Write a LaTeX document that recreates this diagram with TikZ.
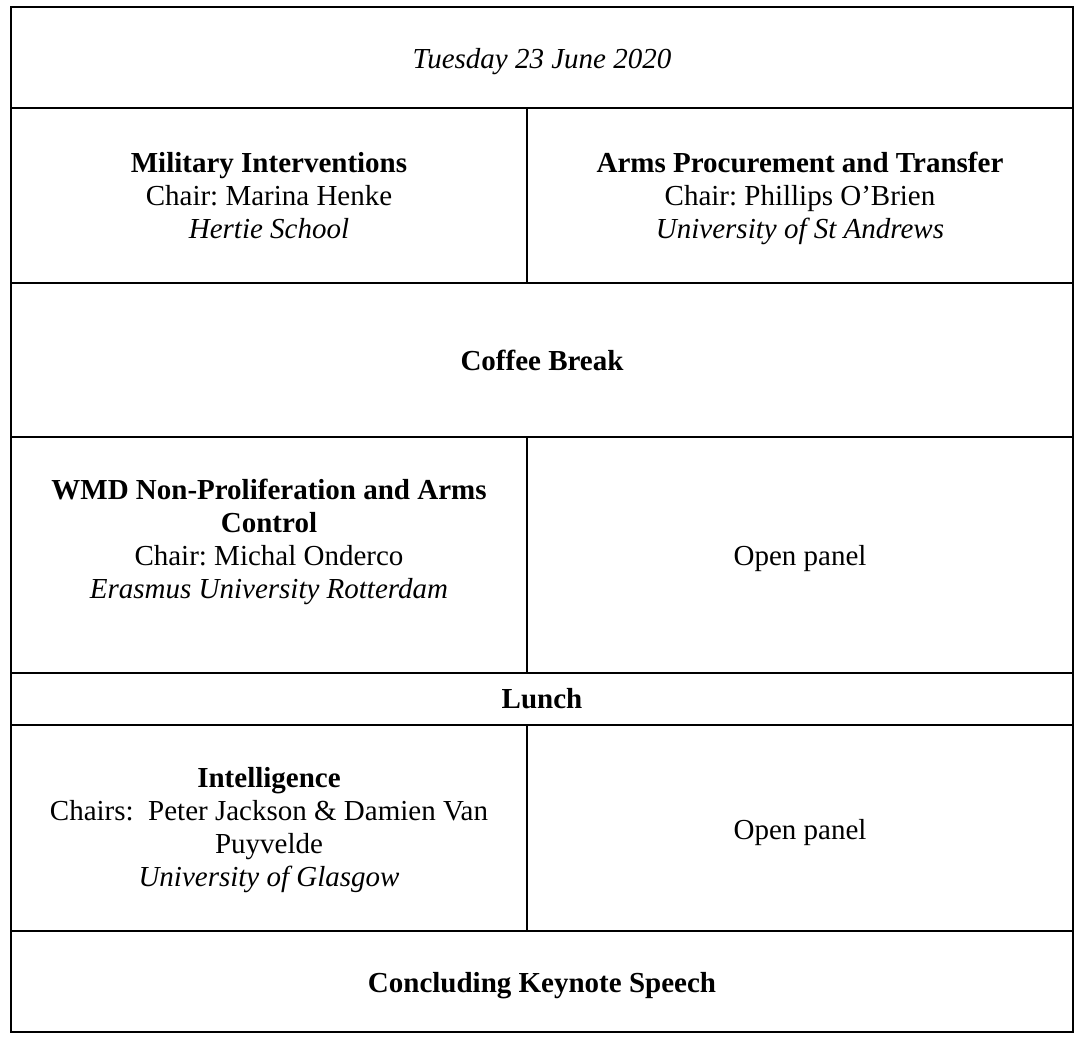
\documentclass[tikz,border=0pt]{standalone}
\usepackage{fontspec}
\setmainfont{Liberation Serif}
\begin{document}
\frenchspacing
\begin{tikzpicture}[x=1pt,y=-1pt,
  cell/.style={draw=black,line width=1.6pt,inner sep=0pt,align=center,
    font=\fontsize{29}{33}\selectfont\frenchspacing},
  txt/.style={inner sep=0pt,align=center,font=\fontsize{29}{33}\selectfont\frenchspacing},
]
\useasboundingbox (0,0) rectangle (1088,1048);
% cells
\node[cell,minimum width=1062pt,minimum height=101pt] (title) at (542,57.5) {};
\node[cell,minimum width=516pt,minimum height=175pt] (mil) at (269,195.5) {};
\node[cell,minimum width=546pt,minimum height=175pt] (arms) at (800,195.5) {};
\node[cell,minimum width=1062pt,minimum height=154pt] (coffee) at (542,360) {};
\node[cell,minimum width=516pt,minimum height=236pt] (wmd) at (269,555) {};
\node[cell,minimum width=546pt,minimum height=236pt] (open1) at (800,555) {};
\node[cell,minimum width=1062pt,minimum height=52pt] (lunch) at (542,699) {};
\node[cell,minimum width=516pt,minimum height=206pt] (intel) at (269,828) {};
\node[cell,minimum width=546pt,minimum height=206pt] (open2) at (800,828) {};
\node[cell,minimum width=1062pt,minimum height=101pt] (key) at (542,981.5) {};
% texts
\node[txt] (titleT) at ([yshift=-4pt]title.center) {\itshape Tuesday 23 June 2020};
\node[txt] (milT) at ([yshift=-0.5pt]mil.center) {\textbf{Military Interventions}\\Chair: Marina Henke\\\itshape Hertie School};
\node[txt] (armsT) at ([yshift=-2.5pt]arms.center) {\textbf{Arms Procurement and Transfer}\\Chair: Phillips O’Brien\\\itshape University of St Andrews};
\node[txt] (coffeeT) at (coffee.center) {\bfseries Coffee Break};
\node[txt] (wmdT) at ([yshift=13pt]wmd.center) {\textbf{WMD Non-Proliferation and Arms}\\\textbf{Control}\\Chair: Michal Onderco\\\itshape Erasmus University Rotterdam};
\node[txt] (open1T) at ([yshift=-4pt]open1.center) {Open panel};
\node[txt] (lunchT) at (lunch.center) {\bfseries Lunch};
\node[txt] (intelT) at ([yshift=-2.5pt]intel.center) {\textbf{Intelligence}\\Chairs:\ \ Peter Jackson \& Damien Van\\Puyvelde\\\itshape University of Glasgow};
\node[txt] (open2T) at ([yshift=-4.5pt]open2.center) {Open panel};
\node[txt] (keyT) at ([yshift=-4pt]key.center) {\bfseries Concluding Keynote Speech};
\end{tikzpicture}
\end{document}
